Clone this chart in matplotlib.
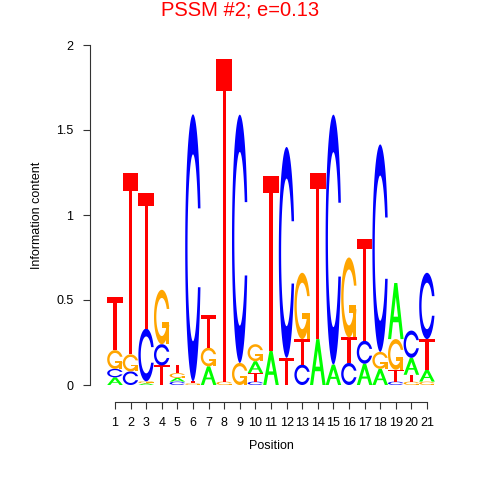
import numpy as np
import matplotlib
matplotlib.use('Agg')
import matplotlib.pyplot as plt
from matplotlib.patches import Polygon

##### Data (bits per base) #####

positions = np.arange(1, 22)
bits_A = [0.045, 0, 0.01, 0, 0.022, 0, 0.11, 0, 0, 0.07, 0.20, 0, 0, 0.27, 0.12, 0, 0.125, 0.095, 0.33, 0.10, 0.07]
bits_C = [0.05, 0.08, 0.31, 0.125, 0.02, 1.57, 0, 0, 1.46, 0.02, 0, 1.24, 0.12, 0, 1.47, 0.13, 0.135, 1.22, 0.02, 0.16, 0.39]
bits_G = [0.11, 0.10, 0.012, 0.32, 0.028, 0.01, 0.11, 0.02, 0.13, 0.10, 0, 0, 0.39, 0, 0, 0.47, 0, 0.10, 0.18, 0.02, 0.02]
bits_T = [0.31, 1.07, 0.80, 0.115, 0.05, 0.012, 0.19, 1.90, 0, 0.05, 1.03, 0.16, 0.15, 0.98, 0, 0.15, 0.60, 0, 0.07, 0.04, 0.18]

bases = ['A', 'C', 'G', 'T']
colors = {'A': '#00FF00', 'C': '#0000FF', 'G': '#FFA500', 'T': '#FF0000'}
yticks = [0, 0.5, 1, 1.5, 2]
ytick_labels = ['0', '0.5', '1', '1.5', '2']

plt.rcParams['font.family'] = ['Liberation Sans', 'DejaVu Sans']

##### Letter shapes in a unit box (list of (polygon, fill)) #####

def c_outline():
    a1 = np.linspace(0.3 + np.pi/2, np.pi, 100)
    a2 = np.linspace(np.pi, 1.5*np.pi, 100)
    xl1, yl1 = 0.5 + 0.5*np.sin(a1), 0.5 + 0.5*np.cos(a1)
    xl2, yl2 = 0.5 + 0.5*np.sin(a2), 0.5 + 0.5*np.cos(a2)
    xl = np.r_[xl1, xl2]
    yl = np.r_[yl1, yl2]
    x = np.r_[xl, xl[::-1]]
    y = np.r_[yl, 1 - yl[::-1]]
    xi1, yi1 = 0.5 + 0.35*np.sin(a1), 0.5 + 0.35*np.cos(a1)
    keep = yi1 <= yl1.max()
    xi1, yi1 = xi1[keep], yi1[keep]
    yi1[0] = yl1.max()
    xi2, yi2 = 0.5 + 0.35*np.sin(a2), 0.5 + 0.35*np.cos(a2)
    xi = np.r_[xi1, xi2]
    yi = np.r_[yi1, yi2]
    x1 = np.r_[xi, xi[::-1]]
    y1 = np.r_[yi, 1 - yi[::-1]]
    x = np.r_[x, x1[::-1]]
    y = np.r_[y, y1[::-1]]
    return np.column_stack([x, y]), xl1.max()


def letter_shapes(ch):
    if ch == 'A':
        x = np.array([0, 4, 6, 10, 8, 6.8, 3.2, 2, 0]) * 0.1
        y = np.array([0, 10, 10, 0, 0, 3, 3, 0, 0]) * 0.1
        xh = np.array([3.6, 5, 6.4, 3.6]) * 0.1
        yh = np.array([4, 7.5, 4, 4]) * 0.1
        return [(np.column_stack([x, y]), colors['A']),
                (np.column_stack([xh, yh]), 'white')]
    if ch == 'T':
        x = np.array([0, 10, 10, 6, 6, 4, 4, 0]) * 0.1
        y = np.array([10, 10, 9, 9, 0, 0, 9, 9]) * 0.1
        return [(np.column_stack([x, y]), colors['T'])]
    pts, r1 = c_outline()
    if ch == 'C':
        return [(pts, colors['C'])]
    h1 = 0.4
    xa = [r1, 0.5, 0.5, r1 - 0.2, r1 - 0.2, r1, r1]
    ya = [h1, h1, h1 - 0.1, h1 - 0.1, 0, 0, h1]
    return [(pts, colors['G']), (np.column_stack([xa, ya]), colors['G'])]


def draw_letter(ax, ch, x, y, h, w=1.0):
    for pts, fc in letter_shapes(ch):
        p = pts.copy()
        p[:, 0] = x - w/2 + w*p[:, 0]
        p[:, 1] = y + h*p[:, 1]
        ax.add_patch(Polygon(p, closed=True, fc=fc, ec='none'))


fig = plt.figure(figsize=(4.8, 4.8), dpi=100)
ax = fig.add_axes([90/480, 78/480, 350/480, 357/480])

table = {'A': bits_A, 'C': bits_C, 'G': bits_G, 'T': bits_T}

# stack letters, smallest at the bottom
for i, x in enumerate(positions):
    col = sorted([(table[b][i], k, b) for k, b in enumerate(bases)])
    y = 0.0
    for h, k, b in col:
        if h <= 0:
            continue
        draw_letter(ax, b, x, y, h)
        y += h

##### Axes #####

ax.set_xlim(1 - 25/15.6, 21 + 13/15.6)
ax.set_ylim(-17/170, 2.0)
for s in ['top', 'right']:
    ax.spines[s].set_visible(False)
ax.spines['left'].set_bounds(0, 2)
ax.spines['bottom'].set_bounds(1, 21)
for s in ['left', 'bottom']:
    ax.spines[s].set_linewidth(0.8)
    ax.spines[s].set_color('#333333')

ax.set_xticks(positions)
ax.set_xticklabels([str(p) for p in positions])
ax.set_yticks(yticks)
ax.set_yticklabels(ytick_labels)
ax.tick_params(axis='both', direction='out', length=5, width=0.8, color='#333333', labelsize=9)
ax.tick_params(axis='x', pad=6)
ax.tick_params(axis='y', pad=7)

fig.text(0.5, 1 - 10/480, 'PSSM #2; e=0.13', color='red', fontsize=14.5, ha='center', va='center')
fig.text(271/480, 1 - 446/480, 'Position', fontsize=9, ha='center', va='center')
fig.text(37/480, 1 - 215/480, 'Information content', fontsize=9, rotation=90, ha='center', va='center')

fig.savefig('out.png', dpi=100)
